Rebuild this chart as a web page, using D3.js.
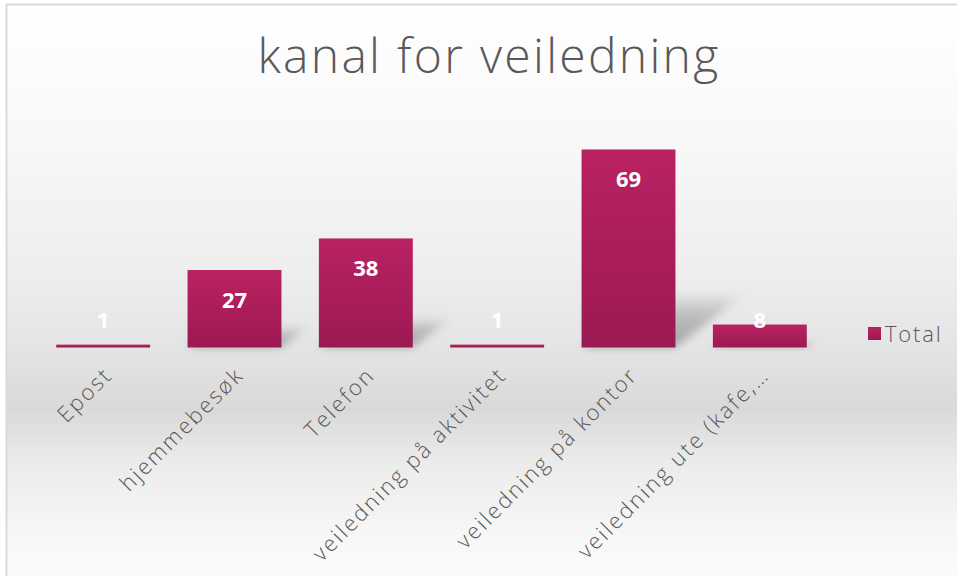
<!DOCTYPE html>
<html>
<head>
<meta charset="utf-8">
<script src="https://cdn.jsdelivr.net/npm/d3@7"></script>
<style>
  html, body { margin: 0; padding: 0; background: #ffffff; }
  svg { display: block; }
</style>
</head>
<body>
<svg id="chart" width="957" height="576"></svg>
<script>
const categories = ["Epost", "hjemmebesøk", "Telefon", "veiledning på aktivitet", "veiledning på kontor", "veiledning ute (kafe,…"];
const totals = [1, 27, 38, 1, 69, 8];
const seriesName = "Total";
const chartTitle = "kanal for veiledning";

const W = 957, H = 576;
const baseY = 347.5;
const svg = d3.select("#chart");
const defs = svg.append("defs");

// background gradient
const bg = defs.append("linearGradient").attr("id", "bgGrad").attr("x1", 0).attr("y1", 0).attr("x2", 0).attr("y2", 1);
[[0, "#ffffff"], [0.18, "#fafafa"], [0.45, "#eeeeee"], [0.6, "#e3e3e3"], [0.69, "#d9d9d9"], [0.78, "#ebebeb"], [0.88, "#f5f5f5"], [1, "#fdfdfd"]]
  .forEach(([o, c]) => bg.append("stop").attr("offset", o).attr("stop-color", c));

const barGrad = defs.append("linearGradient").attr("id", "barGrad").attr("x1", 0).attr("y1", 0).attr("x2", 0).attr("y2", 1);
barGrad.append("stop").attr("offset", 0).attr("stop-color", "#ba2262");
barGrad.append("stop").attr("offset", 1).attr("stop-color", "#9b1953");

const shGrad = defs.append("linearGradient").attr("id", "shGrad").attr("x1", 0).attr("y1", 1).attr("x2", 0).attr("y2", 0);
shGrad.append("stop").attr("offset", 0).attr("stop-color", "#000").attr("stop-opacity", 0.28);
shGrad.append("stop").attr("offset", 0.6).attr("stop-color", "#000").attr("stop-opacity", 0.18);
shGrad.append("stop").attr("offset", 1).attr("stop-color", "#000").attr("stop-opacity", 0.0);

const blur = defs.append("filter").attr("id", "blur").attr("x", "-50%").attr("y", "-50%").attr("width", "200%").attr("height", "200%");
blur.append("feGaussianBlur").attr("stdDeviation", 4);

svg.append("rect").attr("x", 0).attr("y", 0).attr("width", W).attr("height", H).attr("fill", "#ffffff");
svg.append("rect").attr("x", 6.5).attr("y", 4.5).attr("width", W + 10).attr("height", H + 10)
  .attr("fill", "url(#bgGrad)").attr("stroke", "#d9d9d9").attr("stroke-width", 2);

const x = d3.scaleBand().domain(categories).range([37.5, 825.5]).paddingInner(0.285).paddingOuter(0.1425);
const y = d3.scaleLinear().domain([0, 80]).range([baseY, baseY - 229.6]);

const data = categories.map((c, i) => ({ cat: c, v: totals[i] }));

// shadows
svg.append("g").selectAll("path").data(data).join("path")
  .attr("d", d => {
    const x0 = x(d.cat), x1 = x0 + x.bandwidth();
    const h = baseY - y(d.v);
    const dx = h * 0.36, dy = h * 0.28;
    return `M${x0},${baseY} L${x1},${baseY} L${x1 + dx},${baseY - dy} L${x0 + dx},${baseY - dy} Z`;
  })
  .attr("fill", "url(#shGrad)")
  .attr("filter", "url(#blur)");

// bars
svg.append("g").selectAll("rect").data(data).join("rect")
  .attr("x", d => x(d.cat))
  .attr("y", d => y(d.v))
  .attr("width", x.bandwidth())
  .attr("height", d => baseY - y(d.v))
  .attr("fill", "url(#barGrad)");

// value labels
svg.append("g").selectAll("text").data(data).join("text")
  .attr("x", d => x(d.cat) + x.bandwidth() / 2)
  .attr("y", d => Math.min(y(d.v) + 30, baseY - 27))
  .attr("dy", "0.36em")
  .attr("text-anchor", "middle")
  .attr("font-family", "'Open Sans', sans-serif")
  .attr("font-weight", 700)
  .attr("font-size", 22)
  .attr("fill", "#ffffff")
  .text(d => d.v);

// category axis labels
const xAxis = d3.axisBottom(x).tickSize(0).tickPadding(0);
const gx = svg.append("g").attr("transform", `translate(0,${baseY})`).call(xAxis);
gx.select(".domain").remove();
gx.selectAll("text")
  .attr("font-family", "'Open Sans', sans-serif")
  .attr("font-size", 22)
  .attr("font-weight", 300)
  .attr("letter-spacing", 2.2)
  .attr("fill", "#595959")
  .attr("text-anchor", "end")
  .attr("y", 0).attr("dy", 0)
  .attr("transform", "translate(10.5,29) rotate(-45)");

// title
svg.append("text")
  .attr("x", 489).attr("y", 73)
  .attr("text-anchor", "middle")
  .attr("font-family", "'Open Sans', sans-serif")
  .attr("font-weight", 300)
  .attr("font-size", 48)
  .attr("letter-spacing", 2.3)
  .attr("fill", "#595959")
  .text(chartTitle);

// legend
const lg = svg.append("g").attr("transform", "translate(868,327)");
lg.append("rect").attr("width", 13).attr("height", 13).attr("fill", "url(#barGrad)");
lg.append("text").attr("x", 17).attr("y", 14.5)
  .attr("font-family", "'Open Sans', sans-serif")
  .attr("font-weight", 300)
  .attr("font-size", 22)
  .attr("letter-spacing", 1.8)
  .attr("fill", "#595959")
  .text(seriesName);
</script>
</body>
</html>
